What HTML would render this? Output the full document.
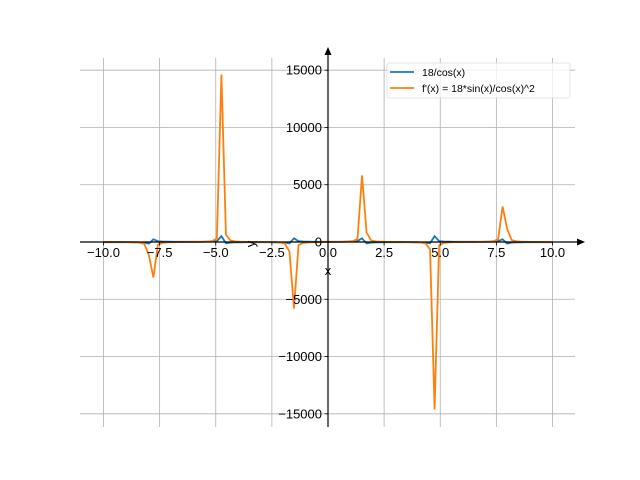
<!DOCTYPE html>
<html><head><meta charset="utf-8"><style>
body{margin:0;background:#fff}
svg{display:block;font-family:"Liberation Sans","DejaVu Sans",sans-serif}
</style></head><body>
<svg id="s" width="640" height="480" xmlns="http://www.w3.org/2000/svg">
<defs><clipPath id="c"><rect x="80" y="58" width="495" height="369"/></clipPath></defs>
<g id="grid" stroke="#b0b0b0" stroke-width="0.8"></g>
<g clip-path="url(#c)" fill="none" stroke-width="1.8">
<polyline id="b" stroke="#1f77b4"/>
<polyline id="o" stroke="#ff7f0e"/>
</g>
<g stroke="#000" stroke-width="1.2">
<line x1="80" y1="242" x2="580" y2="242"/>
<line x1="328" y1="427" x2="328" y2="52"/>
</g>
<polygon points="585,242 577,238.5 577,245.5" fill="#000"/>
<polygon points="328,47 324.5,55 331.5,55" fill="#000"/>
<g id="ticks" stroke="#000" stroke-width="0.8"></g>
<g id="lbl" font-size="13" fill="#000"></g>
<text x="328" y="275" font-size="13" text-anchor="middle">x</text>
<text x="0" y="0" font-size="13" text-anchor="middle" transform="translate(255,244) rotate(-90)">y</text>
<rect x="387" y="63" width="183" height="35" fill="#fff" fill-opacity="0.8" stroke="#ddd" stroke-width="0.8" rx="2"/>
<line x1="390" y1="72" x2="414" y2="72" stroke="#1f77b4" stroke-width="1.8"/>
<line x1="390" y1="88" x2="414" y2="88" stroke="#ff7f0e" stroke-width="1.8"/>
<text x="422" y="76" font-size="10.5">18/cos(x)</text>
<text x="422" y="92" font-size="10.5">f'(x) = 18*sin(x)/cos(x)^2</text>
</svg>
<script>
var X=function(x){return 328+x*22.45},Y=function(v){return 242-v*0.011453};
var b=[],o=[];
for(var k=0;k<100;k++){var x=-10+k*20/99,c=Math.cos(x);
b.push(X(x).toFixed(2)+","+Y(18/c).toFixed(2));
o.push(X(x).toFixed(2)+","+Y(18*Math.sin(x)/(c*c)).toFixed(2));}
document.getElementById("b").setAttribute("points",b.join(" "));
document.getElementById("o").setAttribute("points",o.join(" "));
var ns="http://www.w3.org/2000/svg",g=document.getElementById("grid"),t=document.getElementById("ticks"),l=document.getElementById("lbl");
function el(p,n,a,txt){var e=document.createElementNS(ns,n);for(var i in a)e.setAttribute(i,a[i]);if(txt!=null)e.textContent=txt;p.appendChild(e);}
[-10,-7.5,-5,-2.5,0,2.5,5,7.5,10].forEach(function(v){var x=X(v);
el(g,"line",{x1:x,y1:58,x2:x,y2:427});
el(t,"line",{x1:x,y1:242,x2:x,y2:245.5});
el(l,"text",{x:x,y:257,"text-anchor":"middle"},(v<0?"\u2212":"")+Math.abs(v).toFixed(1));});
[-15000,-10000,-5000,0,5000,10000,15000].forEach(function(v){var y=Y(v);
el(g,"line",{x1:80,y1:y,x2:575,y2:y});
el(t,"line",{x1:324.5,y1:y,x2:328,y2:y});
el(l,"text",{x:322,y:y+4.5,"text-anchor":"end"},(v<0?"\u2212":"")+Math.abs(v));});
</script>
</body></html>
